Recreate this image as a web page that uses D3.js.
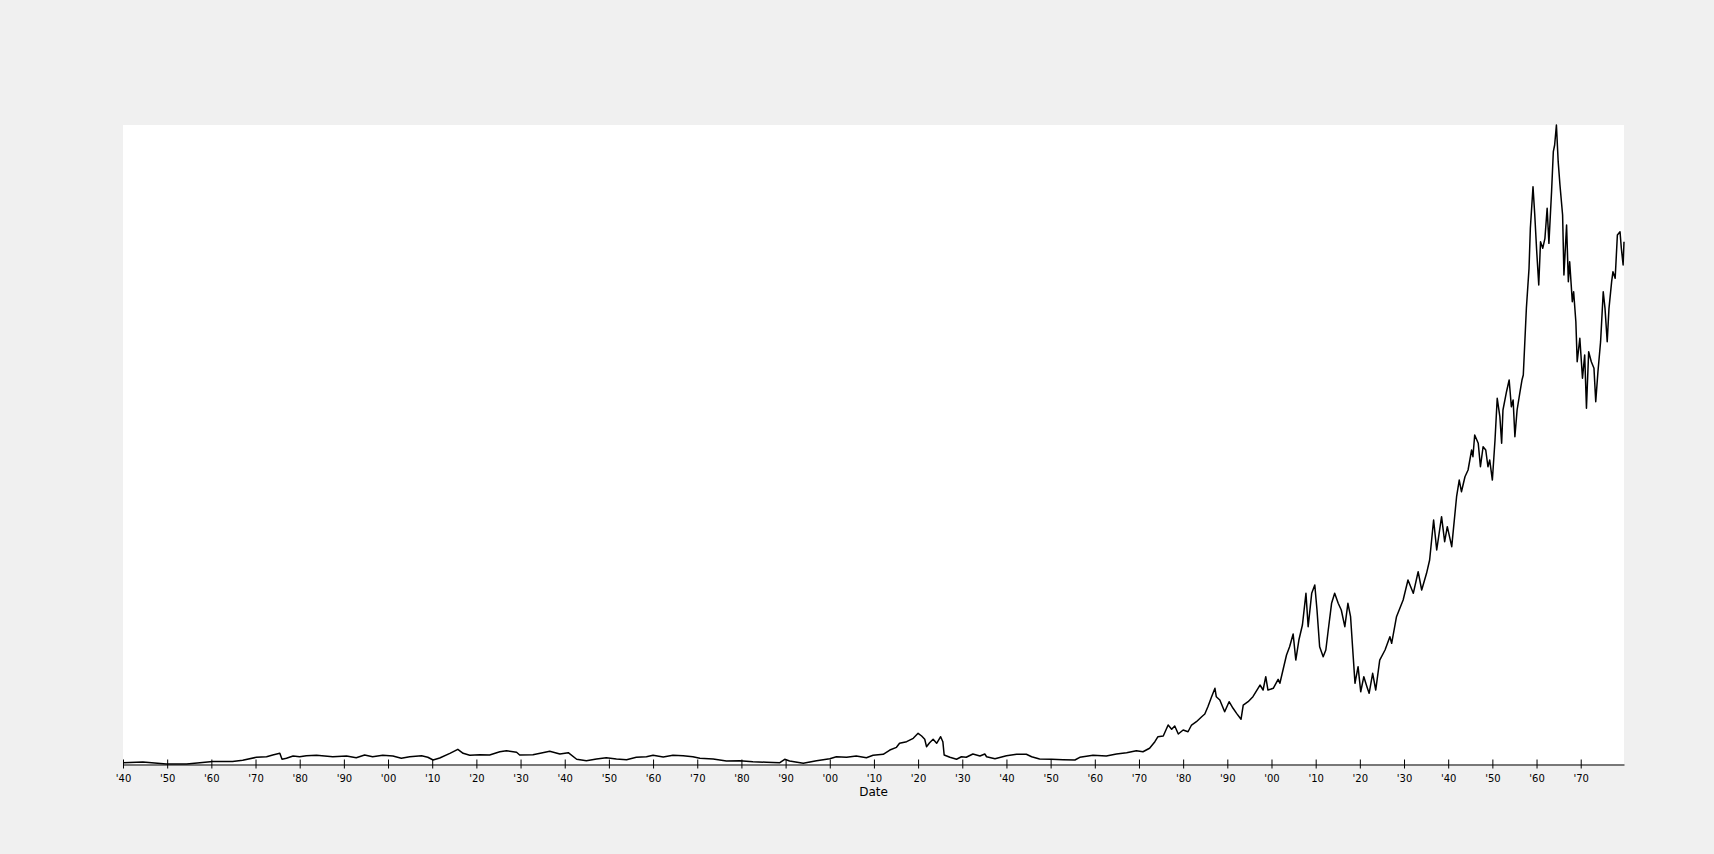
<!DOCTYPE html>
<html>
<head>
<meta charset="utf-8">
<script src="https://cdn.jsdelivr.net/npm/d3@7"></script>
<style>
body { margin: 0; background: #f0f0f0; }
text { font-family: "DejaVu Sans", sans-serif; }
</style>
</head>
<body>
<svg id="chart" width="1714" height="854"></svg>
<script>

///////  Data ///////

var years = [1740.0,1744.5,1749.8,1754.4,1757.4,1760.3,1764.8,1767.1,1770.2,1772.5,1773.9,1775.5,1776.0,1777.0,1778.5,1780.0,1781.5,1783.8,1787.5,1790.6,
    1792.8,1794.7,1796.5,1798.8,1801.1,1803.0,1804.9,1807.6,1809.0,1810.2,1811.7,1814.0,1815.8,1817.0,1818.5,1820.8,1823.0,1825.3,1826.8,1829.1,
    1829.8,1832.8,1835.0,1836.6,1838.9,1840.8,1842.7,1844.9,1847.2,1849.4,1851.7,1854.0,1856.2,1858.5,1860.0,1862.3,1864.5,1866.8,1869.0,1870.6,
    1873.6,1876.6,1879.6,1882.6,1885.7,1888.7,1889.8,1890.9,1894.0,1897.0,1900.0,1901.5,1903.8,1906.0,1908.3,1909.8,1912.1,1913.6,1915.1,1915.8,
    1917.4,1918.9,1920.0,1920.8,1921.5,1921.9,1922.6,1923.4,1924.2,1925.1,1925.6,1925.9,1927.2,1928.7,1929.8,1930.9,1932.4,1934.0,1935.1,1935.5,
    1937.4,1940.0,1942.3,1944.5,1945.7,1947.5,1950.2,1952.8,1955.5,1956.6,1959.6,1962.6,1964.9,1967.2,1969.4,1970.9,1972.4,1973.6,1974.3,1975.5,
    1976.6,1977.4,1978.1,1978.9,1980.0,1981.1,1981.9,1983.0,1984.2,1984.9,1985.6,1986.4,1987.2,1987.5,1988.3,1989.4,1990.4,1991.3,1992.1,1993.1,
    1993.6,1994.7,1995.8,1997.4,1998.1,1998.7,1999.2,2000.4,2001.5,2001.9,2002.6,2003.4,2004.1,2004.9,2005.5,2006.2,2007.0,2007.8,2008.3,2009.1,
    2009.8,2010.3,2010.9,2011.7,2012.3,2012.8,2013.6,2014.3,2015.1,2015.8,2016.6,2017.3,2017.9,2018.5,2018.9,2019.6,2020.2,2020.9,2021.6,2022.1,
    2022.9,2023.6,2024.5,2025.7,2026.8,2027.2,2028.3,2029.8,2030.9,2032.1,2033.2,2034.0,2035.1,2035.8,2036.7,2037.4,2038.5,2039.2,2039.8,2040.8,
    2041.9,2042.5,2043.0,2043.8,2044.5,2045.3,2045.6,2046.0,2046.8,2047.3,2047.9,2048.5,2049.0,2049.4,2050.0,2050.6,2051.1,2051.7,2052.1,2052.4,
    2053.2,2053.8,2054.3,2054.7,2055.1,2055.6,2056.2,2056.7,2057.0,2057.7,2058.3,2058.6,2059.2,2059.6,2060.0,2060.5,2060.9,2061.4,2061.9,2062.4,
    2062.8,2063.4,2063.8,2064.1,2064.5,2064.9,2065.3,2065.9,2066.2,2066.8,2067.2,2067.5,2068.1,2068.4,2068.9,2069.2,2069.8,2070.4,2070.9,2071.3,
    2071.8,2072.4,2073.0,2073.4,2073.9,2074.5,2075.1,2075.5,2076.0,2076.4,2077.0,2077.3,2077.8,2078.3,2078.9,2079.2,2079.6,2079.8];

var values = [0.2,0.3,0,0.0,0.2,0.4,0.4,0.6,1.05,1.14,1.41,1.67,0.74,0.89,1.25,1.14,1.30,1.36,1.14,1.25,
    0.99,1.41,1.14,1.36,1.25,0.89,1.14,1.30,1.05,0.63,0.94,1.67,2.30,1.67,1.36,1.46,1.41,1.92,2.08,1.83,
    1.41,1.46,1.77,1.99,1.56,1.77,0.74,0.52,0.78,0.99,0.78,0.67,1.05,1.14,1.36,1.10,1.36,1.30,1.14,0.89,
    0.78,0.47,0.52,0.36,0.27,0.20,0.74,0.47,0.11,0.52,0.83,1.14,1.05,1.25,0.99,1.36,1.52,2.19,2.61,3.24,
    3.49,4.02,4.80,4.38,3.87,2.71,3.33,3.87,3.24,4.27,3.49,1.41,1.05,0.74,1.14,1.05,1.56,1.25,1.56,1.14,
    0.83,1.30,1.52,1.52,1.14,0.78,0.74,0.67,0.63,1.05,1.36,1.25,1.56,1.77,2.08,1.92,2.46,3.49,4.27,4.38,
    6.10,5.43,5.95,4.69,5.32,5.05,6.10,6.62,7.40,7.82,8.97,10.44,11.85,10.53,10.02,8.18,9.75,8.72,7.93,7.00,
    9.23,9.75,10.53,12.36,11.58,13.66,11.58,11.85,13.25,12.63,14.71,17.06,18.36,20.34,16.27,19.40,21.75,26.71,21.49,26.71,
    28.01,24.10,18.36,16.79,17.84,20.70,25.15,26.71,25.15,24.10,21.49,25.15,23.05,16.79,12.63,15.23,11.31,13.66,12.10,11.06,
    14.19,11.58,16.27,17.84,19.92,18.89,23.05,25.66,28.79,26.71,30.09,27.23,29.84,31.92,38.18,33.49,38.70,34.79,37.14,34.01,
    41.83,44.44,42.61,44.96,46.01,49.14,48.09,51.49,50.19,46.52,49.65,49.14,46.52,47.57,44.44,50.70,57.23,54.35,50.19,55.40,
    58.26,60.09,55.91,56.96,51.22,55.40,58.01,60.09,60.87,71.31,77.57,83.83,90.34,85.91,80.70,74.96,81.74,80.70,82.27,86.96,
    81.48,89.56,95.82,96.87,100,94.26,90.61,85.91,76.52,84.35,75.48,78.61,72.35,73.91,69.22,62.96,66.62,60.36,64.00,55.66,
    64.52,62.96,61.92,56.70,61.39,66.09,73.91,71.31,66.09,71.31,75.48,77.04,76.01,82.78,83.30,80.70,78.09,81.74];

var xLabel = "Date";

///////  Setup ///////

function toDate(y) {
    var yr = Math.floor(y);
    var start = new Date(yr, 0, 1), end = new Date(yr + 1, 0, 1);
    return new Date(+start + (y - yr) * (end - start));
}

var data = d3.zip(years, values).map(function(d) { return {date: toDate(d[0]), value: d[1]}; });

var svg = d3.select("#chart"),
margin = {top: 125, right: 90, bottom: 90, left: 123},
width = +svg.attr("width") - margin.left - margin.right,
height = +svg.attr("height") - margin.top - margin.bottom;

svg.append("rect")
.attr("width", +svg.attr("width"))
.attr("height", +svg.attr("height"))
.attr("fill", "#f0f0f0");

var g = svg.append("g")
.attr("transform", "translate(" + margin.left + "," + margin.top + ")");

g.append("rect")
.attr("width", width)
.attr("height", height)
.attr("fill", "white");

var x = d3.scaleTime().range([0, width]),
y = d3.scaleLinear().range([height, 0]);

x.domain(d3.extent(data, function(d) { return d.date; }));
y.domain(d3.extent(data, function(d) { return d.value; }));

///////  Line ///////

var line = d3.line()
.x(function(d) { return x(d.date); })
.y(function(d) { return y(d.value); });

g.append("path")
.datum(data)
.attr("fill", "none")
.attr("stroke", "black")
.attr("stroke-width", 1.5)
.attr("stroke-linejoin", "round")
.attr("d", line);

///////  Axis ///////

var xAxis = d3.axisBottom(x)
.ticks(d3.timeYear.every(10))
.tickFormat(d3.timeFormat("'%y"))
.tickSizeInner(4)
.tickSizeOuter(0)
.tickPadding(6);

var ax = g.append("g")
.attr("transform", "translate(0," + (height + 0.5) + ")")
.call(xAxis);

ax.select(".domain").attr("stroke", "black");
ax.selectAll(".tick line").attr("y1", -5).attr("stroke", "black");
ax.selectAll(".tick text")
.attr("font-size", "10px")
.attr("font-family", "DejaVu Sans")
.attr("fill", "black");

g.append("text")
.attr("x", width / 2)
.attr("y", height + 32)
.attr("text-anchor", "middle")
.attr("font-size", "12px")
.attr("fill", "black")
.text(xLabel);

</script>
</body>
</html>
